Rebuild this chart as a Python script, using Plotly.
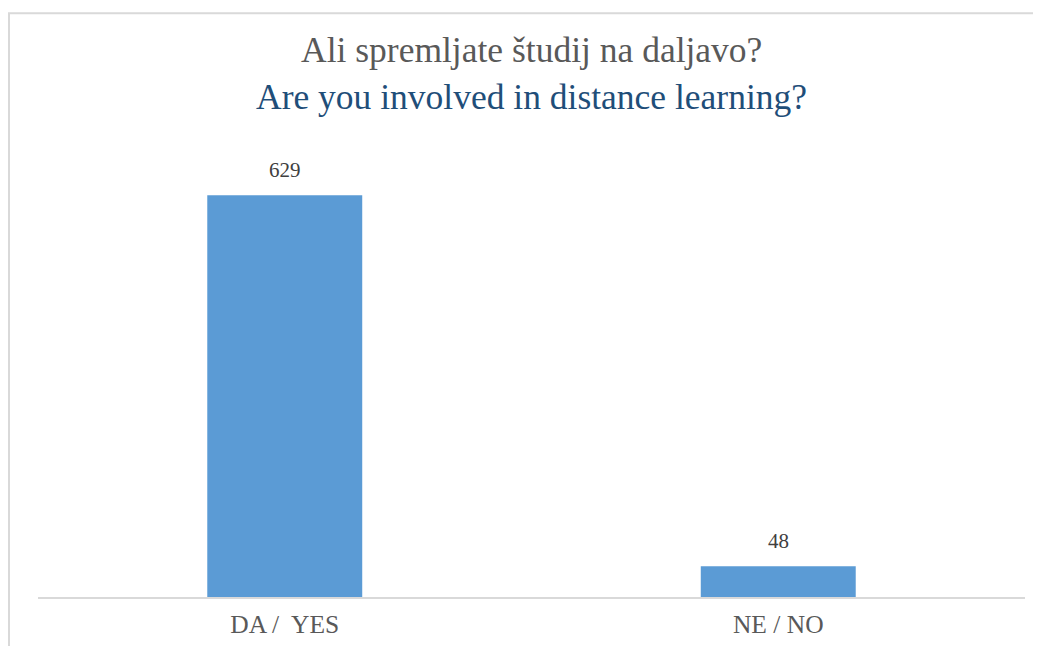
import plotly.graph_objects as go

categories = ["DA /\u00a0 YES", "NE / NO"]
values = [629, 48]
title_sl = "Ali spremljate študij na daljavo?"
title_en = "Are you involved in distance learning?"

FONT = '"Liberation Serif", "Times New Roman", Times, serif'

fig = go.Figure(go.Bar(
    x=categories, y=values,
    marker=dict(color="#5B9BD5", line=dict(width=0)),
    hoverinfo="skip",
))

for c, v in zip(categories, values):
    fig.add_annotation(x=c, y=v, text=str(v), showarrow=False,
                       yanchor="bottom", yshift=11,
                       font=dict(family=FONT, size=21, color="#404040"))

fig.add_annotation(xref="paper", yref="paper", x=0.5, y=1, yshift=100,
                   text=title_sl, showarrow=False, yanchor="middle", xanchor="center",
                   font=dict(family=FONT, size=35.5, color="#595959"))
fig.add_annotation(xref="paper", yref="paper", x=0.5, y=1, yshift=53,
                   text=title_en, showarrow=False, yanchor="middle", xanchor="center",
                   font=dict(family=FONT, size=35.5, color="#1F4E79"))

# chart border (only left/top visible in reference)
fig.add_shape(type="rect", xref="paper", yref="paper",
              x0=-0.0294, x1=1.1, y0=-0.2, y1=1.306,
              line=dict(color="#D9D9D9", width=2), layer="below")

fig.update_layout(
    width=1033, height=638,
    margin=dict(l=30, r=16, t=142, b=49, autoexpand=False),
    paper_bgcolor="white", plot_bgcolor="white",
    bargap=0.686,
    showlegend=False,
    font=dict(family=FONT),
    xaxis=dict(showline=True, linecolor="#D9D9D9", linewidth=1.5,
               ticks="", showgrid=False, ticklabelstandoff=4, automargin=False,
               tickfont=dict(family=FONT, size=25.5, color="#595959")),
    yaxis=dict(range=[0, 700], visible=False, showgrid=False, automargin=False),
)

fig.write_html("out.html")
